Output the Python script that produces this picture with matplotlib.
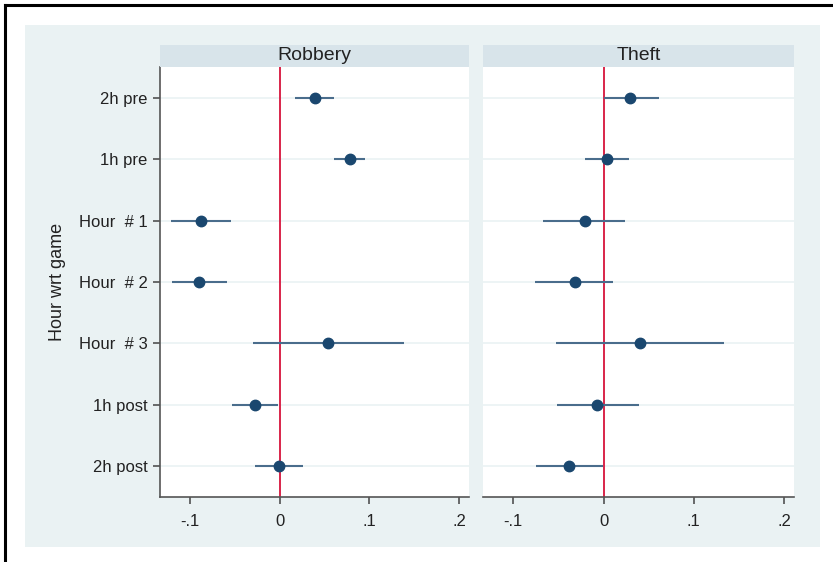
import numpy as np
from matplotlib import pyplot as plt
from matplotlib.patches import Rectangle
from matplotlib.lines import Line2D

plt.rcParams['font.family'] = ['Liberation Sans', 'DejaVu Sans']

# data
rows = ['2h pre', '1h pre', 'Hour  # 1', 'Hour  # 2', 'Hour  # 3', '1h post', '2h post']

rob_coef = [0.039, 0.078, -0.088, -0.090, 0.054, -0.028, -0.001]
rob_lo = [0.017, 0.061, -0.121, -0.120, -0.030, -0.053, -0.028]
rob_hi = [0.060, 0.095, -0.054, -0.059, 0.138, -0.002, 0.026]

theft_coef = [0.029, 0.004, -0.021, -0.032, 0.040, -0.007, -0.038]
theft_lo = [0.000, -0.021, -0.067, -0.076, -0.053, -0.052, -0.075]
theft_hi = [0.061, 0.028, 0.024, 0.011, 0.134, 0.039, -0.001]

xticks = [-0.1, 0, 0.1, 0.2]
xticklabels = ['-.1', '0', '.1', '.2']

W, H = 833, 562
fig = plt.figure(figsize=(W/100, H/100), dpi=100)
fig.patch.set_facecolor('white')

def box(x0, y0, x1, y1):
    # pixel box (top-left origin) -> figure fraction rect
    return [x0/W, 1 - y1/H, (x1 - x0)/W, (y1 - y0)/H]

# black frame lines (top and left)
fig.add_artist(Line2D([5/W, 1], [1 - 5/H, 1 - 5/H], color='black', lw=2.2))
fig.add_artist(Line2D([5/W, 5/W], [0, 1 - 5/H], color='black', lw=2.2))

# graph region background
bg = box(25, 25, 820, 547)
fig.add_artist(Rectangle((bg[0], bg[1]), bg[2], bg[3], transform=fig.transFigure,
                         facecolor='#eaf2f3', edgecolor='none', zorder=0))

navy = '#1a476f'
ci_col = '#4a6d8c'
red = '#d9254a'
grid_col = '#eaf2f3'

panels = [('Robbery', rob_coef, rob_lo, rob_hi, 160, 469, True),
          ('Theft', theft_coef, theft_lo, theft_hi, 483, 794, False)]

y = np.arange(1, len(rows) + 1)
for title, coef, lo, hi, x0, x1, first in panels:
    ax = fig.add_axes(box(x0, 67, x1, 497))
    ax.set_facecolor('white')
    for yy in y:
        ax.axhline(yy, color=grid_col, lw=1.2, zorder=1)
    ax.axvline(0, color=red, lw=1.4, zorder=2)
    ax.hlines(y, lo, hi, color=ci_col, lw=1.5, zorder=3)
    ax.plot(coef, y, 'o', color=navy, ms=7.5, zorder=4)
    ax.set_xlim(-0.1335, 0.211)
    ax.set_ylim(len(rows) + 0.5, 0.5)
    ax.set_xticks(xticks)
    ax.set_xticklabels(xticklabels, fontsize=12, color='#222222')
    ax.tick_params(axis='x', length=5, width=1.1, color='#444444', pad=7)
    for s in ['top', 'right']:
        ax.spines[s].set_visible(False)
    ax.spines['bottom'].set_color('#555555')
    ax.spines['bottom'].set_linewidth(1.2)
    if first:
        ax.set_yticks(y)
        ax.set_yticklabels(rows, fontsize=12, color='#222222')
        ax.tick_params(axis='y', length=5, width=1.1, color='#444444', pad=4)
        ax.spines['left'].set_color('#555555')
        ax.spines['left'].set_linewidth(1.2)
        ax.set_ylabel('Hour wrt game', fontsize=13, labelpad=9, color='#222222')
    else:
        ax.set_yticks([])
        ax.spines['left'].set_visible(False)
    # strip header
    hd = fig.add_axes(box(x0, 45, x1, 67))
    hd.set_facecolor('#d8e4ea')
    hd.set_xticks([])
    hd.set_yticks([])
    for s in hd.spines.values():
        s.set_visible(False)
    hd.text(0.5, 0.5, title, ha='center', va='center', fontsize=14, color='#222222')

fig.savefig('out.png', dpi=100)
